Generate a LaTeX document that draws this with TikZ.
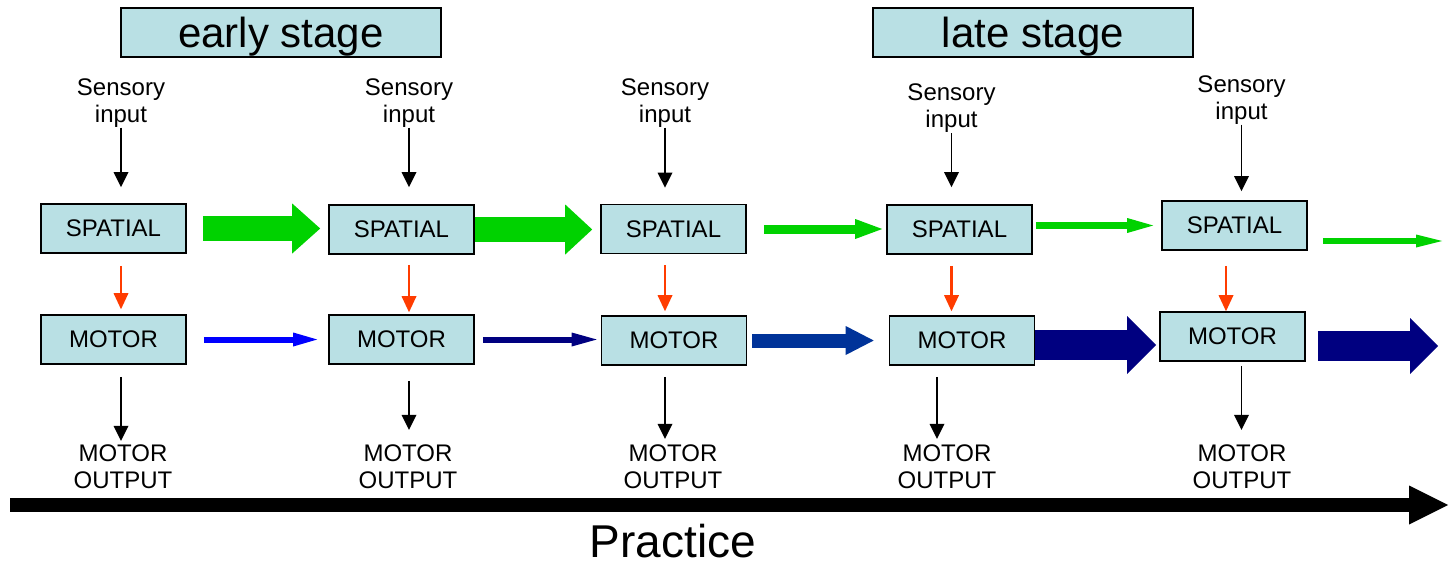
\documentclass[tikz,border=0pt]{standalone}
\usepackage{fontspec}
\setmainfont{Liberation Sans}
\usepackage{xcolor}
\usepackage{tikz}
\usetikzlibrary{arrows.meta,calc}

\definecolor{boxfill}{RGB}{185,224,228}
\definecolor{arrgreen}{RGB}{0,210,0}
\definecolor{arrred}{RGB}{255,60,0}
\definecolor{arrnavy}{RGB}{0,0,128}
\definecolor{arrmid}{RGB}{0,51,153}

\begin{document}
\begin{tikzpicture}[
    x=1pt, y=-1pt,
    unitbox/.style={draw, line width=1.6pt, fill=boxfill, minimum width=145pt, minimum height=49pt, inner sep=0pt, font=\fontsize{24}{27}\selectfont},
    stagebox/.style={unitbox, minimum width=320pt, text depth=0pt, font=\fontsize{42}{48}\selectfont},
    lbl/.style={align=center, inner sep=0pt, font=\fontsize{24}{27}\selectfont},
    inarr/.style={line width=1.6pt, -{Triangle[length=15pt,width=15pt,line width=0pt]}},
    feed/.style={arrred, line width=2.8pt, -{Triangle[length=16pt,width=15pt,line width=0pt]}},
    blockarr/.style n args={4}{#1, line width=#2pt, -{Triangle[length=#3pt,width=#4pt,line width=0pt]}}
]
\useasboundingbox (0,0) rectangle (1450,565);

\node[stagebox] (early) at (281,32.5) {early stage};
\node[stagebox] (late) at (1033,32.5) {late stage};

\node[lbl] (s1) at (121,103) {Sensory\\input};
\node[lbl] (s2) at (409,103) {Sensory\\input};
\node[lbl] (s3) at (665,103) {Sensory\\input};
\node[lbl] (s4) at (951.5,108.5) {Sensory\\input};
\node[lbl] (s5) at (1241.5,100) {Sensory\\input};

\node[unitbox] (sp1) at (113.5,228.5) {SPATIAL};
\node[unitbox] (sp2) at (401.5,229.5) {SPATIAL};
\node[unitbox] (sp3) at (673.5,229) {SPATIAL};
\node[unitbox] (sp4) at (959.5,229.5) {SPATIAL};
\node[unitbox] (sp5) at (1234.5,225.5) {SPATIAL};

\node[unitbox] (m1) at (113.5,339.5) {MOTOR};
\node[unitbox] (m2) at (401.5,339.5) {MOTOR};
\node[unitbox] (m3) at (674,340.5) {MOTOR};
\node[unitbox] (m4) at (962,340.5) {MOTOR};
\node[unitbox] (m5) at (1232.5,336.5) {MOTOR};

\node[lbl] (o1) at (123,467) {MOTOR\\OUTPUT};
\node[lbl] (o2) at (408,467) {MOTOR\\OUTPUT};
\node[lbl] (o3) at (673,467) {MOTOR\\OUTPUT};
\node[lbl] (o4) at (947,467) {MOTOR\\OUTPUT};
\node[lbl] (o5) at (1242,467) {MOTOR\\OUTPUT};

\node[inner sep=0pt, anchor=base, font=\fontsize{46}{52}\selectfont] (prac) at (673,557) {Practice};

% sensory input
\draw[inarr, shorten >=16pt] (s1.south) -- (s1.south |- sp1.north);
\draw[inarr, shorten >=17pt] (s2.south) -- (s2.south |- sp2.north);
\draw[inarr, shorten >=16pt] (s3.south) -- (s3.south |- sp3.north);
\draw[inarr, shorten >=17pt] (s4.south) -- (s4.south |- sp4.north);
\draw[inarr, shorten >=9pt] (s5.south) -- (s5.south |- sp5.north);

% spatial to motor
\draw[feed, shorten <=12pt, shorten >=5pt] (sp1.south -| s1) -- (m1.north -| s1);
\draw[feed, line width=1.5pt, shorten <=10pt, shorten >=2pt] (sp2.south -| s2) -- (m2.north -| s2);
\draw[feed, shorten <=11pt, shorten >=4pt] (sp3.south -| s3) -- (m3.north -| s3);
\draw[feed, shorten <=11pt, shorten >=4pt] (sp4.south -| s4) -- (m4.north -| s4);
\draw[feed, shorten <=15pt] ([xshift=-8.5pt]sp5.south) -- ([xshift=-8.5pt]sp5.south |- m5.north);

% motor output
\draw[inarr, shorten <=12pt, shorten >=4pt] (m1.south -| s1) -- (o1.north -| s1);
\draw[inarr, shorten <=16pt, shorten >=15pt] (m2.south -| s2) -- (o2.north -| s2);
\draw[inarr, shorten <=11pt, shorten >=6pt] (m3.south -| s3) -- (o3.north -| s3);
\draw[inarr, shorten <=11pt, shorten >=6pt] ([xshift=-25pt]m4.south) -- ([xshift=-25pt]m4.south |- o4.north);
\draw[inarr, shorten <=4pt, shorten >=15pt] (m5.south -| s5) -- (o5.north -| s5);

% spatial chain
\draw[blockarr={arrgreen}{25}{28}{50}, shorten <=16pt, shorten >=8pt] (sp1.east) -- (sp1.east -| sp2.west);
\draw[blockarr={arrgreen}{25}{27}{50}, shorten >=8pt] (sp2.east) -- (sp2.east -| sp3.west);
\draw[blockarr={arrgreen}{9}{27}{20}, shorten <=17pt, shorten >=4pt] (sp3.east) -- (sp3.east -| sp4.west);
\draw[blockarr={arrgreen}{7}{26}{15}, shorten <=3pt, shorten >=8pt] (sp4.east |- sp5.west) -- (sp5.west);
\coordinate (gout) at (1442,241);
\draw[blockarr={arrgreen}{6}{26}{13}, shorten <=15pt] (gout -| sp5.east) -- (gout);

% motor chain
\draw[blockarr={blue}{6}{24}{14}, shorten <=17pt, shorten >=11pt] (m1.east) -- (m1.east -| m2.west);
\draw[blockarr={arrnavy}{6}{25}{14}, shorten <=8pt, shorten >=4pt] (m2.east) -- (m2.east -| m3.west);
\draw[blockarr={arrmid}{14}{28}{29}, shorten <=5pt, shorten >=15pt] (m3.east) -- (m3.east -| m4.west);
\draw[blockarr={arrnavy}{30}{29}{58}, shorten >=3pt] ([yshift=-4.5pt]m4.east) -- ([yshift=-4.5pt]m4.east -| m5.west);
\coordinate (mout) at (1438,346);
\draw[blockarr={arrnavy}{30}{28}{56}, shorten <=12pt] (mout -| m5.east) -- (mout);

% practice
\coordinate (pstart) at (10,505);
\coordinate (pend) at (1448,505);
\draw[line width=14pt, -{Triangle[length=39pt,width=39pt,line width=0pt]}] (pstart) -- (pend);
\end{tikzpicture}
\end{document}
